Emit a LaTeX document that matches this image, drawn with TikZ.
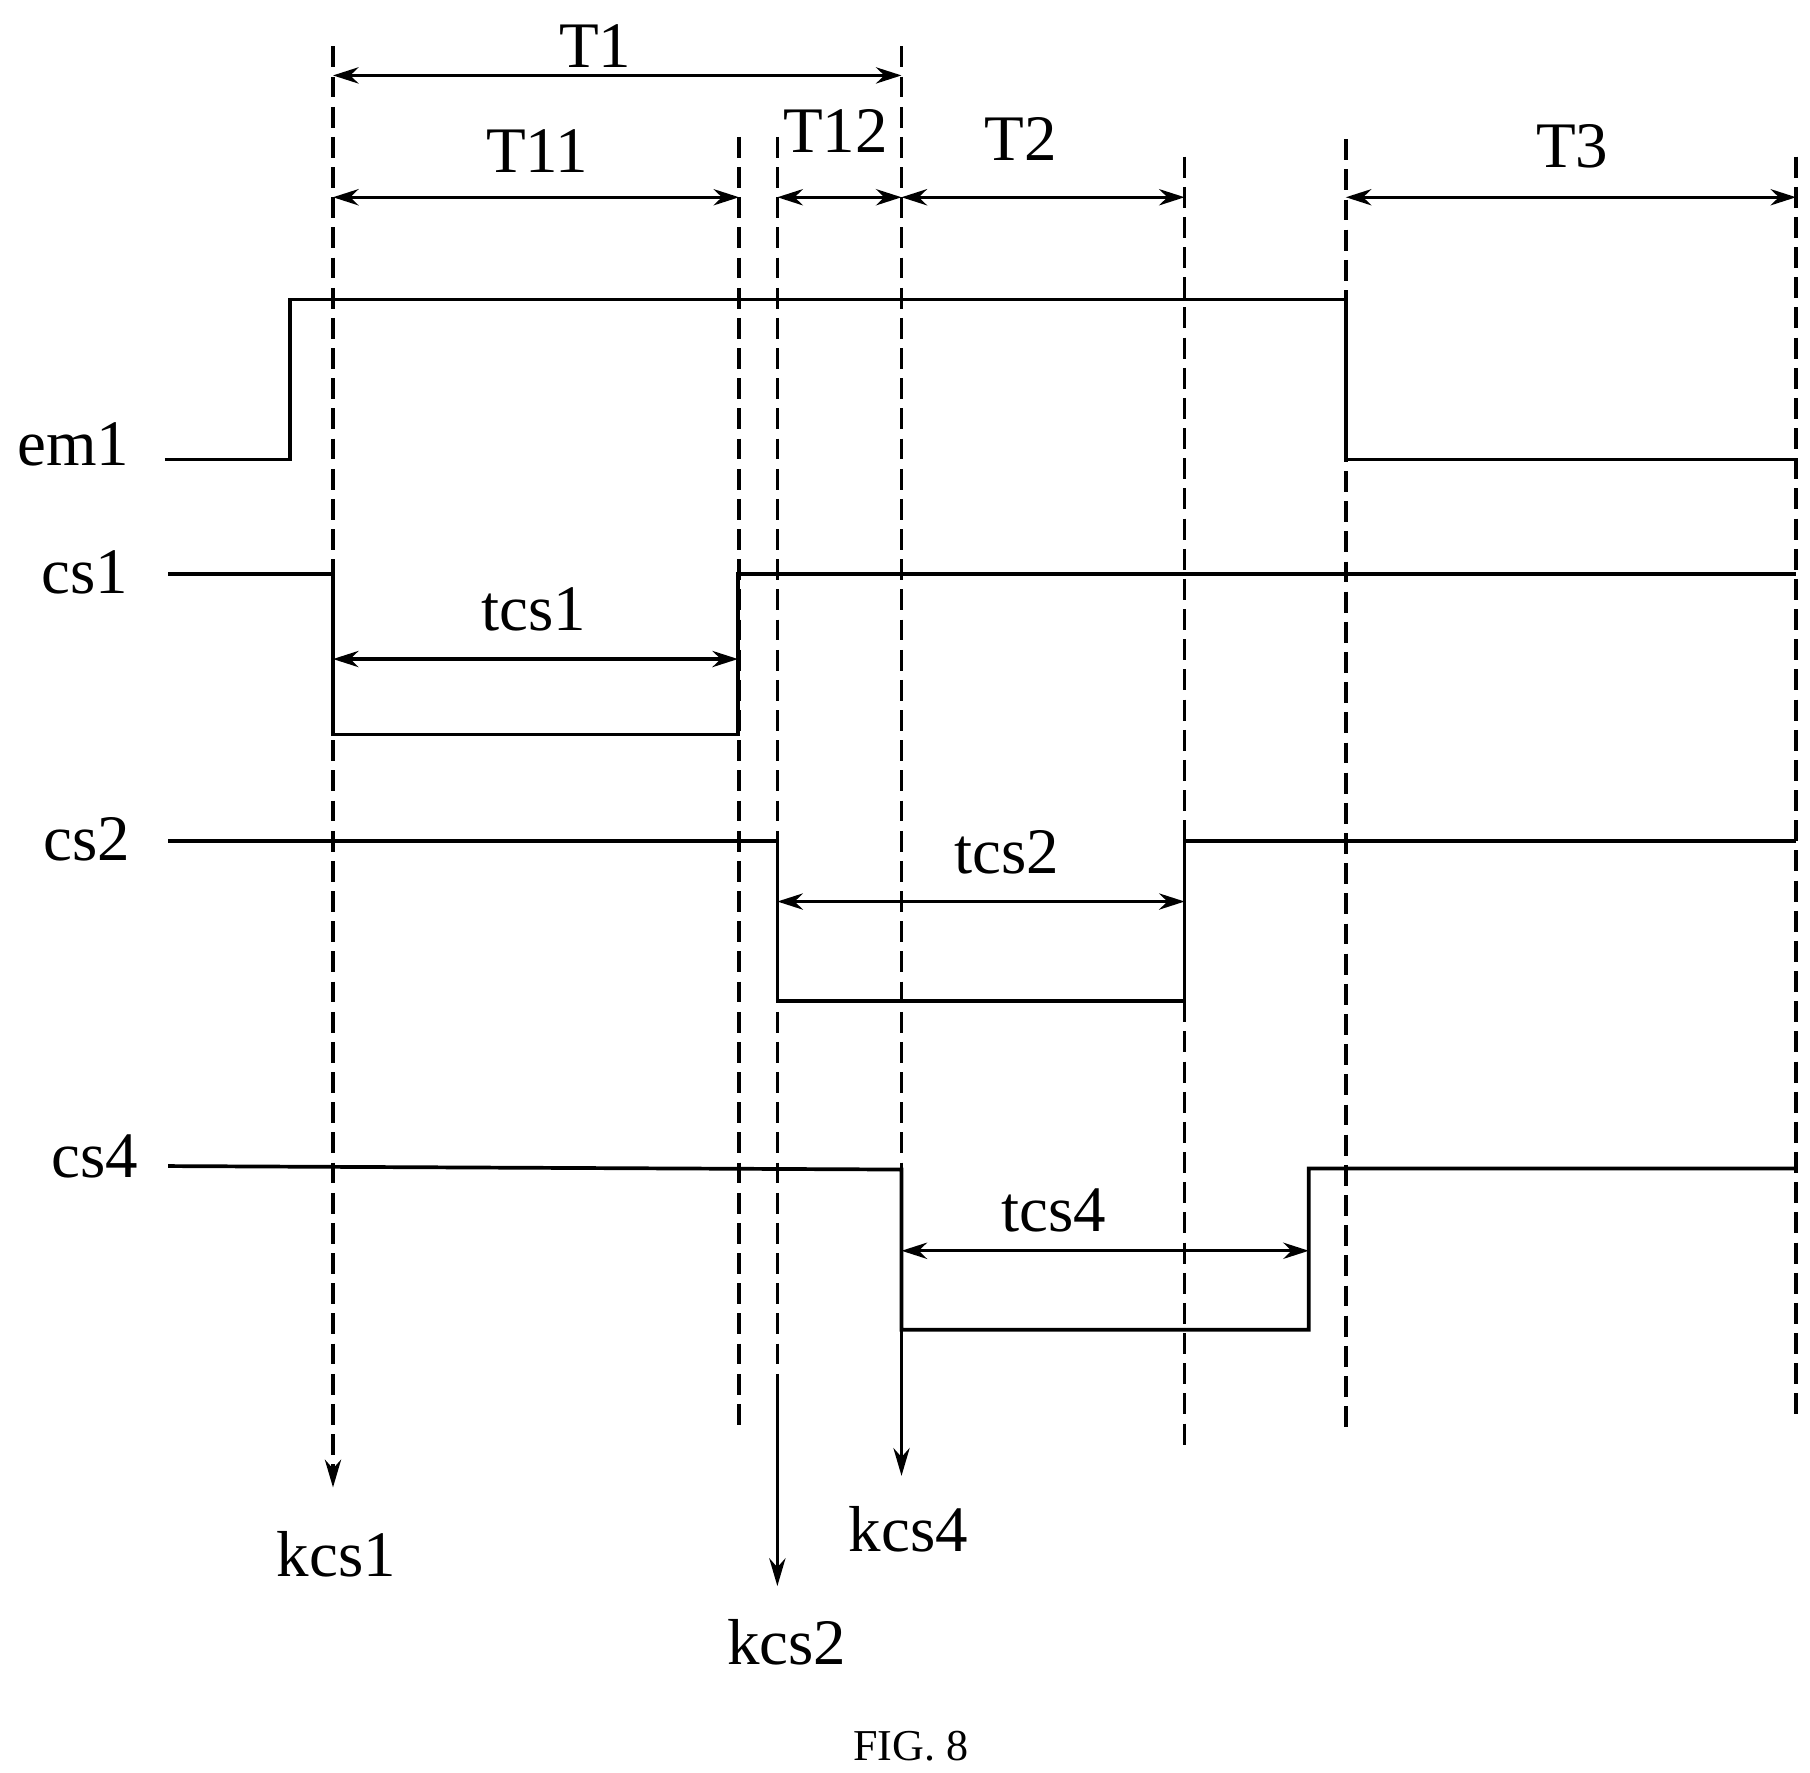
\documentclass[tikz,border=0pt]{standalone}
\usepackage{fontspec}
\setmainfont{Liberation Serif}
\usetikzlibrary{arrows.meta}
\begin{document}
\begin{tikzpicture}[x=0.5pt,y=-0.5pt,
  sig/.style={line width=1.6pt},
  dsh/.style={line width=1.4pt,dash pattern=on 9pt off 4pt},
  dim/.style={line width=1.4pt,{Stealth[length=11pt,width=7pt]}-{Stealth[length=11pt,width=7pt]}},
  arr/.style={line width=1.4pt,-{Stealth[length=12pt,width=7pt]}},
  lab/.style={font=\fontsize{28}{30}\selectfont,inner sep=0pt},
  figcap/.style={font=\fontsize{19}{21}\selectfont,inner sep=0pt}]
\useasboundingbox (0,0) rectangle (1560,1527.6);
% verticals
\coordinate (v1t) at (287,40); \coordinate (v1b) at (287,1282);
\coordinate (v2t) at (637,118); \coordinate (v2b) at (637,1232);
\coordinate (v3t) at (670,118); \coordinate (v3m) at (670,1190); \coordinate (v3b) at (670,1367);
\coordinate (v4t) at (777,40); \coordinate (v4m) at (777,1146); \coordinate (v4b) at (777,1272);
\coordinate (v5t) at (1021,135); \coordinate (v5b) at (1021,1250);
\coordinate (v6t) at (1160,120); \coordinate (v6b) at (1160,1236);
\coordinate (v7t) at (1548,135); \coordinate (v7b) at (1548,1226);
\draw[dsh,-{Stealth[length=12pt,width=7pt]}] (v1t) -- (v1b);
\draw[dsh] (v2t) -- (v2b);
\draw[dsh] (v3t) -- (v3m);
\draw[arr] (v3m) -- (v3b);
\draw[dsh] (v4t) -- (v4m);
\draw[arr] (v4m) -- (v4b);
\draw[dsh] (v5t) -- (v5b);
\draw[dsh] (v6t) -- (v6b);
\draw[dsh] (v7t) -- (v7b);
% signals
\draw[sig] (142,396) -- (250,396) -- (250,258) -- (1160,258) -- (1160,396) -- (1548,396);
\draw[sig] (145,495) -- (287,495) -- (287,633) -- (636,633) -- (636,495) -- (1548,495);
\draw[sig] (145,725) -- (670,725) -- (670,863) -- (1021,863) -- (1021,725) -- (1548,725);
\draw[sig] (145,1005) -- (777,1008) -- (777,1146) -- (1128,1146) -- (1128,1007) -- (1548,1007);
% dimensions
\draw[dim] (287,65) coordinate (a1) -- (777,65) coordinate (b1);
\draw[dim] (287,170) coordinate (a2) -- (637,170) coordinate (b2);
\draw[dim] (670,170) coordinate (a3) -- (777,170) coordinate (b3);
\draw[dim] (777,170) coordinate (a4) -- (1021,170) coordinate (b4);
\draw[dim] (1160,170) coordinate (a5) -- (1548,170) coordinate (b5);
\draw[dim] (287,568) coordinate (a6) -- (636,568) coordinate (b6);
\draw[dim] (670,777) coordinate (a7) -- (1021,777) coordinate (b7);
\draw[dim] (777,1078) coordinate (a8) -- (1128,1078) coordinate (b8);
% labels
\node[lab] (T1) at (513,40) {T1};
\node[lab] (T11) at (463,130) {T11};
\node[lab] (T12) at (720,113) {T12};
\node[lab] (T2) at (880,120) {T2};
\node[lab] (T3) at (1355,126) {T3};
\node[lab] (tcs1) at (460,525) {tcs1};
\node[lab] (tcs2) at (868,735) {tcs2};
\node[lab] (tcs4) at (908,1043) {tcs4};
\node[lab] (em1) at (63,383) {em1};
\node[lab] (cs1) at (73,493) {cs1};
\node[lab] (cs2) at (75,723) {cs2};
\node[lab] (cs4) at (82,997) {cs4};
\node[lab] (kcs1) at (290,1340) {kcs1};
\node[lab] (kcs4) at (783,1318) {kcs4};
\node[lab] (kcs2) at (678,1415) {kcs2};
\node[figcap] (fig) at (785,1505) {FIG. 8};
\end{tikzpicture}
\end{document}
